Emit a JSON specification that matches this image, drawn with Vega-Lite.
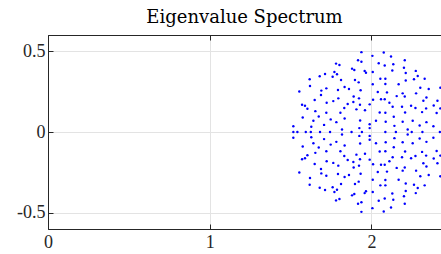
{
  "$schema": "https://vega.github.io/schema/vega-lite/v6.json",
  "width": 393,
  "height": 194,
  "autosize": {"type": "none"},
  "padding": {"left": 48, "top": 35, "right": 0, "bottom": 25},
  "background": "white",
  "title": {"text": "Eigenvalue Spectrum", "font": "DejaVu Serif", "fontSize": 18, "fontWeight": "normal", "color": "#000000", "anchor": "middle", "baseline": "alphabetic", "offset": -6},
  "data": {"values": [
    {"re":1.938,"im":0.494},{"re":2.006,"im":0.471},{"re":2.076,"im":0.492},{"re":2.121,"im":0.467},{"re":2.206,"im":0.444},
    {"re":1.917,"im":0.444},{"re":1.938,"im":0.434},{"re":1.781,"im":0.423},{"re":1.802,"im":0.415},{"re":2.045,"im":0.425},
    {"re":2.082,"im":0.411},{"re":2.135,"im":0.419},{"re":2.201,"im":0.398},{"re":1.880,"im":0.392},{"re":1.894,"im":0.384},
    {"re":1.958,"im":0.378},{"re":1.966,"im":0.367},{"re":2.008,"im":0.371},{"re":2.129,"im":0.380},{"re":2.212,"im":0.365},
    {"re":2.274,"im":0.378},{"re":1.771,"im":0.371},{"re":1.787,"im":0.357},{"re":1.713,"im":0.359},{"re":1.680,"im":0.345},
    {"re":1.760,"im":0.342},{"re":1.618,"im":0.326},{"re":1.812,"im":0.322},{"re":1.898,"im":0.322},{"re":1.921,"im":0.307},
    {"re":2.055,"im":0.330},{"re":2.086,"im":0.330},{"re":2.008,"im":0.295},{"re":2.086,"im":0.297},{"re":2.168,"im":0.295},
    {"re":2.212,"im":0.318},{"re":2.263,"im":0.326},{"re":2.286,"im":0.347},{"re":2.329,"im":0.330},{"re":1.620,"im":0.285},
    {"re":1.721,"im":0.270},{"re":1.834,"im":0.278},{"re":1.861,"im":0.266},{"re":1.933,"im":0.258},{"re":1.690,"im":0.256},
    {"re":1.554,"im":0.251},{"re":1.793,"im":0.260},{"re":2.039,"im":0.247},{"re":2.096,"im":0.245},{"re":2.193,"im":0.239},
    {"re":2.206,"im":0.220},{"re":2.156,"im":0.222},{"re":2.276,"im":0.239},{"re":2.302,"im":0.274},{"re":2.354,"im":0.266},
    {"re":2.426,"im":0.274},{"re":1.688,"im":0.229},{"re":1.795,"im":0.208},{"re":1.764,"im":0.191},{"re":1.723,"im":0.181},
    {"re":1.649,"im":0.198},{"re":1.890,"im":0.220},{"re":1.923,"im":0.208},{"re":2.010,"im":0.200},{"re":2.059,"im":0.202},
    {"re":2.082,"im":0.202},{"re":2.111,"im":0.181},{"re":2.321,"im":0.193},{"re":2.340,"im":0.214},{"re":2.408,"im":0.193},
    {"re":1.571,"im":0.169},{"re":1.589,"im":0.162},{"re":1.604,"im":0.144},{"re":1.653,"im":0.129},{"re":1.721,"im":0.119},
    {"re":1.808,"im":0.119},{"re":1.832,"im":0.148},{"re":1.853,"im":0.173},{"re":1.888,"im":0.185},{"re":1.907,"im":0.140},
    {"re":1.929,"im":0.169},{"re":1.960,"im":0.135},{"re":1.989,"im":0.171},{"re":2.051,"im":0.121},{"re":2.086,"im":0.119},
    {"re":2.131,"im":0.156},{"re":2.189,"im":0.156},{"re":2.208,"im":0.121},{"re":2.245,"im":0.162},{"re":2.272,"im":0.148},
    {"re":2.313,"im":0.123},{"re":2.338,"im":0.146},{"re":2.385,"im":0.164},{"re":2.403,"im":0.117},{"re":2.426,"im":0.146},
    {"re":1.575,"im":0.090},{"re":1.641,"im":0.069},{"re":1.674,"im":0.096},{"re":1.748,"im":0.078},{"re":1.783,"im":0.061},
    {"re":1.834,"im":0.084},{"re":1.930,"im":0.071},{"re":2.028,"im":0.069},{"re":2.088,"im":0.063},{"re":2.138,"im":0.094},
    {"re":2.193,"im":0.063},{"re":2.255,"im":0.069},{"re":2.298,"im":0.040},{"re":2.340,"im":0.061},{"re":2.383,"im":0.036},
    {"re":1.517,"im":0.036},{"re":1.628,"im":0.032},{"re":1.707,"im":0.044},{"re":1.818,"im":0.015},{"re":1.925,"im":0.024},
    {"re":1.989,"im":0.048},{"re":1.989,"im":0.024},{"re":2.142,"im":0.038},{"re":2.224,"im":0.015},
    {"re":1.938,"im":-0.494},{"re":2.006,"im":-0.471},{"re":2.076,"im":-0.492},{"re":2.121,"im":-0.467},{"re":2.206,"im":-0.444},
    {"re":1.917,"im":-0.444},{"re":1.938,"im":-0.434},{"re":1.781,"im":-0.423},{"re":1.802,"im":-0.415},{"re":2.045,"im":-0.425},
    {"re":2.082,"im":-0.411},{"re":2.135,"im":-0.419},{"re":2.201,"im":-0.398},{"re":1.880,"im":-0.392},{"re":1.894,"im":-0.384},
    {"re":1.958,"im":-0.378},{"re":1.966,"im":-0.367},{"re":2.008,"im":-0.371},{"re":2.129,"im":-0.380},{"re":2.212,"im":-0.365},
    {"re":2.274,"im":-0.378},{"re":1.771,"im":-0.371},{"re":1.787,"im":-0.357},{"re":1.713,"im":-0.359},{"re":1.680,"im":-0.345},
    {"re":1.760,"im":-0.342},{"re":1.618,"im":-0.326},{"re":1.812,"im":-0.322},{"re":1.898,"im":-0.322},{"re":1.921,"im":-0.307},
    {"re":2.055,"im":-0.330},{"re":2.086,"im":-0.330},{"re":2.008,"im":-0.295},{"re":2.086,"im":-0.297},{"re":2.168,"im":-0.295},
    {"re":2.212,"im":-0.318},{"re":2.263,"im":-0.326},{"re":2.286,"im":-0.347},{"re":2.329,"im":-0.330},{"re":1.620,"im":-0.285},
    {"re":1.721,"im":-0.270},{"re":1.834,"im":-0.278},{"re":1.861,"im":-0.266},{"re":1.933,"im":-0.258},{"re":1.690,"im":-0.256},
    {"re":1.554,"im":-0.251},{"re":1.793,"im":-0.260},{"re":2.039,"im":-0.247},{"re":2.096,"im":-0.245},{"re":2.193,"im":-0.239},
    {"re":2.206,"im":-0.220},{"re":2.156,"im":-0.222},{"re":2.276,"im":-0.239},{"re":2.302,"im":-0.274},{"re":2.354,"im":-0.266},
    {"re":2.426,"im":-0.274},{"re":1.688,"im":-0.229},{"re":1.795,"im":-0.208},{"re":1.764,"im":-0.191},{"re":1.723,"im":-0.181},
    {"re":1.649,"im":-0.198},{"re":1.890,"im":-0.220},{"re":1.923,"im":-0.208},{"re":2.010,"im":-0.200},{"re":2.059,"im":-0.202},
    {"re":2.082,"im":-0.202},{"re":2.111,"im":-0.181},{"re":2.321,"im":-0.193},{"re":2.340,"im":-0.214},{"re":2.408,"im":-0.193},
    {"re":1.571,"im":-0.169},{"re":1.589,"im":-0.162},{"re":1.604,"im":-0.144},{"re":1.653,"im":-0.129},{"re":1.721,"im":-0.119},
    {"re":1.808,"im":-0.119},{"re":1.832,"im":-0.148},{"re":1.853,"im":-0.173},{"re":1.888,"im":-0.185},{"re":1.907,"im":-0.140},
    {"re":1.929,"im":-0.169},{"re":1.960,"im":-0.135},{"re":1.989,"im":-0.171},{"re":2.051,"im":-0.121},{"re":2.086,"im":-0.119},
    {"re":2.131,"im":-0.156},{"re":2.189,"im":-0.156},{"re":2.208,"im":-0.121},{"re":2.245,"im":-0.162},{"re":2.272,"im":-0.148},
    {"re":2.313,"im":-0.123},{"re":2.338,"im":-0.146},{"re":2.385,"im":-0.164},{"re":2.403,"im":-0.117},{"re":2.426,"im":-0.146},
    {"re":1.575,"im":-0.090},{"re":1.641,"im":-0.069},{"re":1.674,"im":-0.096},{"re":1.748,"im":-0.078},{"re":1.783,"im":-0.061},
    {"re":1.834,"im":-0.084},{"re":1.930,"im":-0.071},{"re":2.028,"im":-0.069},{"re":2.088,"im":-0.063},{"re":2.138,"im":-0.094},
    {"re":2.193,"im":-0.063},{"re":2.255,"im":-0.069},{"re":2.298,"im":-0.040},{"re":2.340,"im":-0.061},{"re":2.383,"im":-0.036},
    {"re":1.517,"im":-0.036},{"re":1.628,"im":-0.032},{"re":1.707,"im":-0.044},{"re":1.818,"im":-0.015},{"re":1.925,"im":-0.024},
    {"re":1.989,"im":-0.048},{"re":1.989,"im":-0.024},{"re":2.142,"im":-0.038},{"re":2.224,"im":-0.015},
    {"re":1.517,"im":0},{"re":1.542,"im":0},{"re":1.594,"im":0},{"re":1.625,"im":0},{"re":1.682,"im":0},
    {"re":1.744,"im":0},{"re":1.877,"im":0},{"re":1.941,"im":0},{"re":2.086,"im":0},{"re":2.151,"im":0},
    {"re":2.249,"im":0},{"re":2.315,"im":0},{"re":2.423,"im":0}
  ]},
  "layer": [
    {
      "mark": {"type": "point", "filled": true, "size": 6, "color": "#0000ff", "opacity": 1, "clip": true},
      "encoding": {
        "x": {"field": "re", "type": "quantitative",
              "scale": {"domain": [0, 2.43], "nice": false, "zero": false},
              "axis": {"orient": "bottom", "values": [0, 1, 2], "title": null, "grid": true,
                       "tickSize": -5, "labelPadding": 9, "labelFlush": false}},
        "y": {"field": "im", "type": "quantitative",
              "scale": {"domain": [-0.6, 0.6], "nice": false, "zero": false},
              "axis": {"orient": "left", "values": [-0.5, 0, 0.5], "title": null, "grid": true,
                       "tickSize": -5, "labelPadding": 8, "labelFlush": false, "format": "~g",
                       "labelExpr": "replace(datum.label, '\u2212', '-')"}}
      }
    },
    {
      "mark": {"type": "point", "opacity": 0},
      "encoding": {
        "x": {"field": "re", "type": "quantitative",
              "axis": {"orient": "top", "values": [0, 1, 2], "title": null, "grid": false,
                       "labels": false, "tickSize": -5}}
      }
    }
  ],
  "resolve": {"axis": {"x": "independent"}},
  "config": {
    "view": {"stroke": "#262626", "strokeWidth": 1},
    "axis": {
      "labelFont": "Liberation Serif", "labelFontSize": 18, "labelColor": "#262626",
      "domainColor": "#262626", "domainWidth": 1, "tickColor": "#262626", "tickWidth": 1,
      "gridColor": "#e3e3e3", "gridWidth": 1
    }
  }
}
